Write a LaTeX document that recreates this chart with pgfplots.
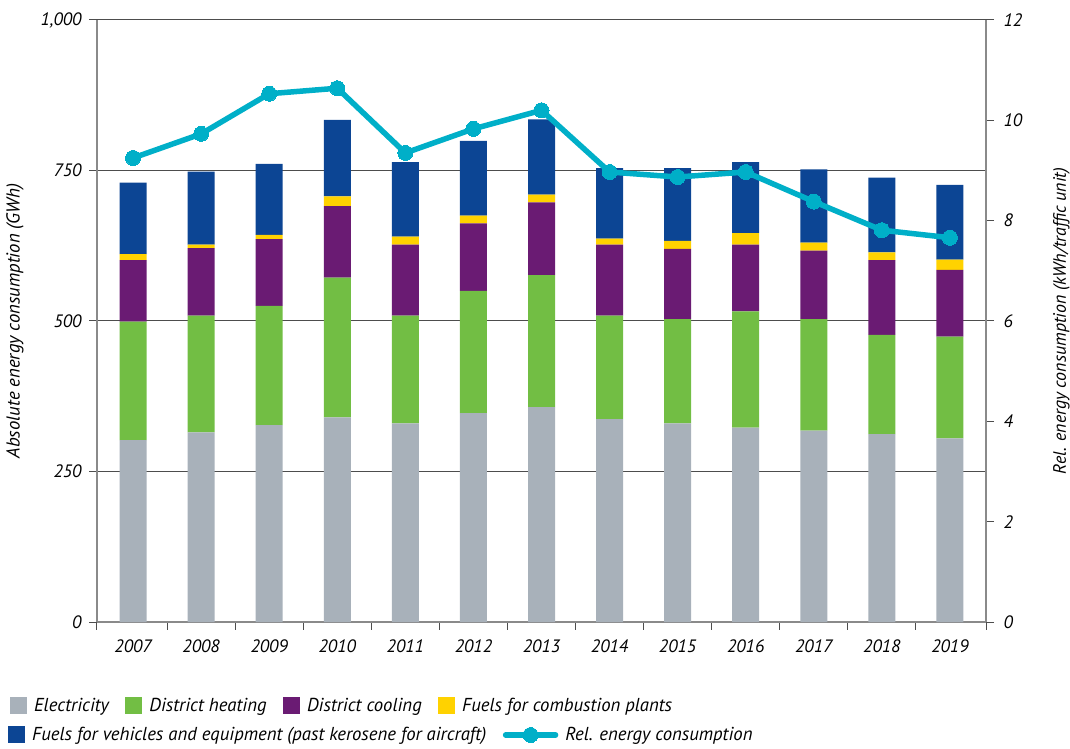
\documentclass[border=0pt]{standalone}
\usepackage{fontspec}
\setmainfont{PT Sans}
\usepackage{pgfplots}
\pgfplotsset{compat=1.18}
\usepackage{pgfplotstable}

\definecolor{elec}{HTML}{A8B1BA}
\definecolor{heat}{HTML}{72BE44}
\definecolor{cool}{HTML}{6A1B73}
\definecolor{comb}{HTML}{FFD200}
\definecolor{veh}{HTML}{0C4594}
\definecolor{rel}{HTML}{00AFC8}
\definecolor{gridc}{HTML}{4D4D4D}
\definecolor{axc}{HTML}{8A8A8A}

\pgfplotstableread{
x year elec heat cool comb veh rel
0 2007 302 197 102 10 119 9.25
1 2008 315 194 112 6 121 9.73
2 2009 327 198 111 7 118 10.53
3 2010 340 232 119 16 127 10.64
4 2011 330 179 118 13 124 9.35
5 2012 347 203 112 13 124 9.83
6 2013 357 219 121 13 125 10.20
7 2014 337 172 118 10 117 8.97
8 2015 330 173 117 13 121 8.87
9 2016 323 193 111 19 118 8.97
10 2017 318 185 114 13 122 8.38
11 2018 312 165 124 13 124 7.81
12 2019 305 169 111 17 124 7.66
}\datatable

\newcommand\lab{\fontsize{18}{21}\selectfont\itshape}
\newcommand\leg{\fontsize{18.8}{22}\selectfont\itshape}

\pgfplotsset{
  common/.style={
    scale only axis, width=889bp, height=602bp,
    at={(0,0)}, anchor=south west,
    xmin=-0.53, xmax=12.53,
    axis line style={axc, line width=1.3bp},
    tick style={gridc, line width=1bp},
    tick align=outside,
    major tick length=8bp,
    minor tick length=8bp,
    tick label style={font=\lab},
    /pgf/number format/assume math mode=true,
    legend cell align=left,
    legend style={draw=none, fill=none, font=\leg, inner sep=0pt,
      /tikz/every odd column/.append style={column sep=5bp},
      /tikz/every even column/.append style={column sep=14.5bp}},
  },
  swatch/.style={legend image code/.code={\fill[##1,draw=none] (0bp,-8.5bp) rectangle (17bp,8.5bp);}},
  linelegend/.style={legend image code/.code={\draw[##1, mark repeat=2, mark phase=2] plot coordinates {(0bp,0bp) (25bp,0bp) (50bp,0bp)};}},
}

\begin{document}
\begin{tikzpicture}
\path[use as bounding box] (-97bp,-127bp) rectangle (973bp,622bp);
\begin{axis}[
  common,
  ymin=0, ymax=1000,
  ybar stacked, bar width=27bp,
  axis x line*=bottom, axis y line*=left,
  xtick={0,...,12},
  xticklabels={2007,2008,2009,2010,2011,2012,2013,2014,2015,2016,2017,2018,2019},
  major x tick style={draw=none},
  minor xtick={-0.53,0.5,1.5,2.5,3.5,4.5,5.5,6.5,7.5,8.5,9.5,10.5,11.5,12.53},
  xticklabel style={yshift=-6bp},
  ytick={0,250,500,750,1000},
  yticklabels={0,250,500,750,{1,000}},
  yticklabel style={xshift=-4bp},
  ymajorgrids,
  major grid style={gridc, line width=1bp},
  every axis y label/.style={at={(axis description cs:-0.0922,0.5)}, anchor=center, rotate=90, font=\leg},
  ylabel={Absolute energy consumption (GWh)},
  legend columns=4,
  legend style={at={(axis description cs:-0.0979,-0.1395)}, anchor=west},
  swatch,
]
\addplot[fill=elec, draw=none] table[x=x, y=elec] {\datatable};
\addlegendentry{Electricity}
\addplot[fill=heat, draw=none] table[x=x, y=heat] {\datatable};
\addlegendentry{District heating}
\addplot[fill=cool, draw=none] table[x=x, y=cool] {\datatable};
\addlegendentry{District cooling}
\addplot[fill=comb, draw=none] table[x=x, y=comb] {\datatable};
\addlegendentry{Fuels for combustion plants}
\addplot[fill=veh, draw=none, forget plot] table[x=x, y=veh] {\datatable};
\end{axis}

\begin{axis}[
  common,
  ymin=0, ymax=12,
  axis x line=none, axis y line*=right,
  ytick={0,2,4,6,8,10,12},
  yticklabels={0,2,4,6,8,10,12},
  yticklabel style={xshift=6bp},
  every axis y label/.style={at={(axis description cs:1.085,0.5)}, anchor=center, rotate=90, font=\lab},
  ylabel={Rel. energy consumption (kWh/traffic unit)},
  legend columns=2,
  legend style={at={(axis description cs:-0.1001,-0.1877)}, anchor=west},
]
\addlegendimage{swatch, fill=veh}
\addlegendentry{Fuels for vehicles and equipment (past kerosene for aircraft)}
\addplot[rel, line width=5.5bp, line join=round, line cap=round,
  mark=*, mark size=7.5bp, mark options={solid, fill=rel, draw=rel, line width=0pt},
  linelegend]
  table[x=x, y=rel] {\datatable};
\addlegendentry{Rel. energy consumption}
\end{axis}
\end{tikzpicture}
\end{document}
